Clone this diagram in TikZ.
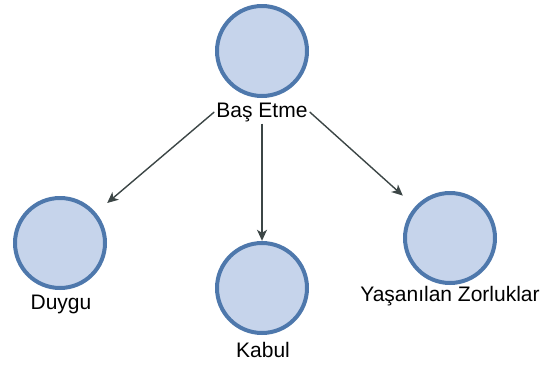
\documentclass[tikz,border=0pt]{standalone}
\usepackage{fontspec}
\setmainfont{Liberation Sans}
\usetikzlibrary{arrows.meta}
\definecolor{dblue}{RGB}{78,120,172}
\definecolor{dfill}{RGB}{198,212,235}
\definecolor{dgray}{RGB}{60,70,70}

\begin{document}
\begin{tikzpicture}[x=1pt,y=-1pt,
  konu/.style={rectangle, minimum size=94pt, inner sep=0pt,
    path picture={\filldraw[fill=dfill, draw=dblue, line width=4pt]
      (path picture bounding box.center) circle (45pt);}},
  yazi/.style={inner sep=2pt, font=\fontsize{21}{24}\selectfont},
  ok/.style={draw=dgray, line width=1.4pt, -{Stealth[length=11pt,width=10pt,inset=3pt]}}]
\useasboundingbox (0,0) rectangle (546,367);

\node[konu] (bas) at (262,51) {};
\node[konu] (duygu) at (60,243) {};
\node[konu] (kabul) at (262,288) {};
\node[konu] (zorluk) at (450,238) {};

\node[yazi] (bastext) at (262,112) {Baş Etme};
\node[yazi] (duygutext) at (61,304) {Duygu};
\node[yazi] (kabultext) at (263,350) {Kabul};
\node[yazi] (zorluktext) at (450,296) {Yaşanılan Zorluklar};

\draw[ok] (bastext.west) -- (duygu);
\draw[ok] (bastext.south) -- (kabul);
\draw[ok] (bastext.east) -- (zorluk);

\end{tikzpicture}
\end{document}
